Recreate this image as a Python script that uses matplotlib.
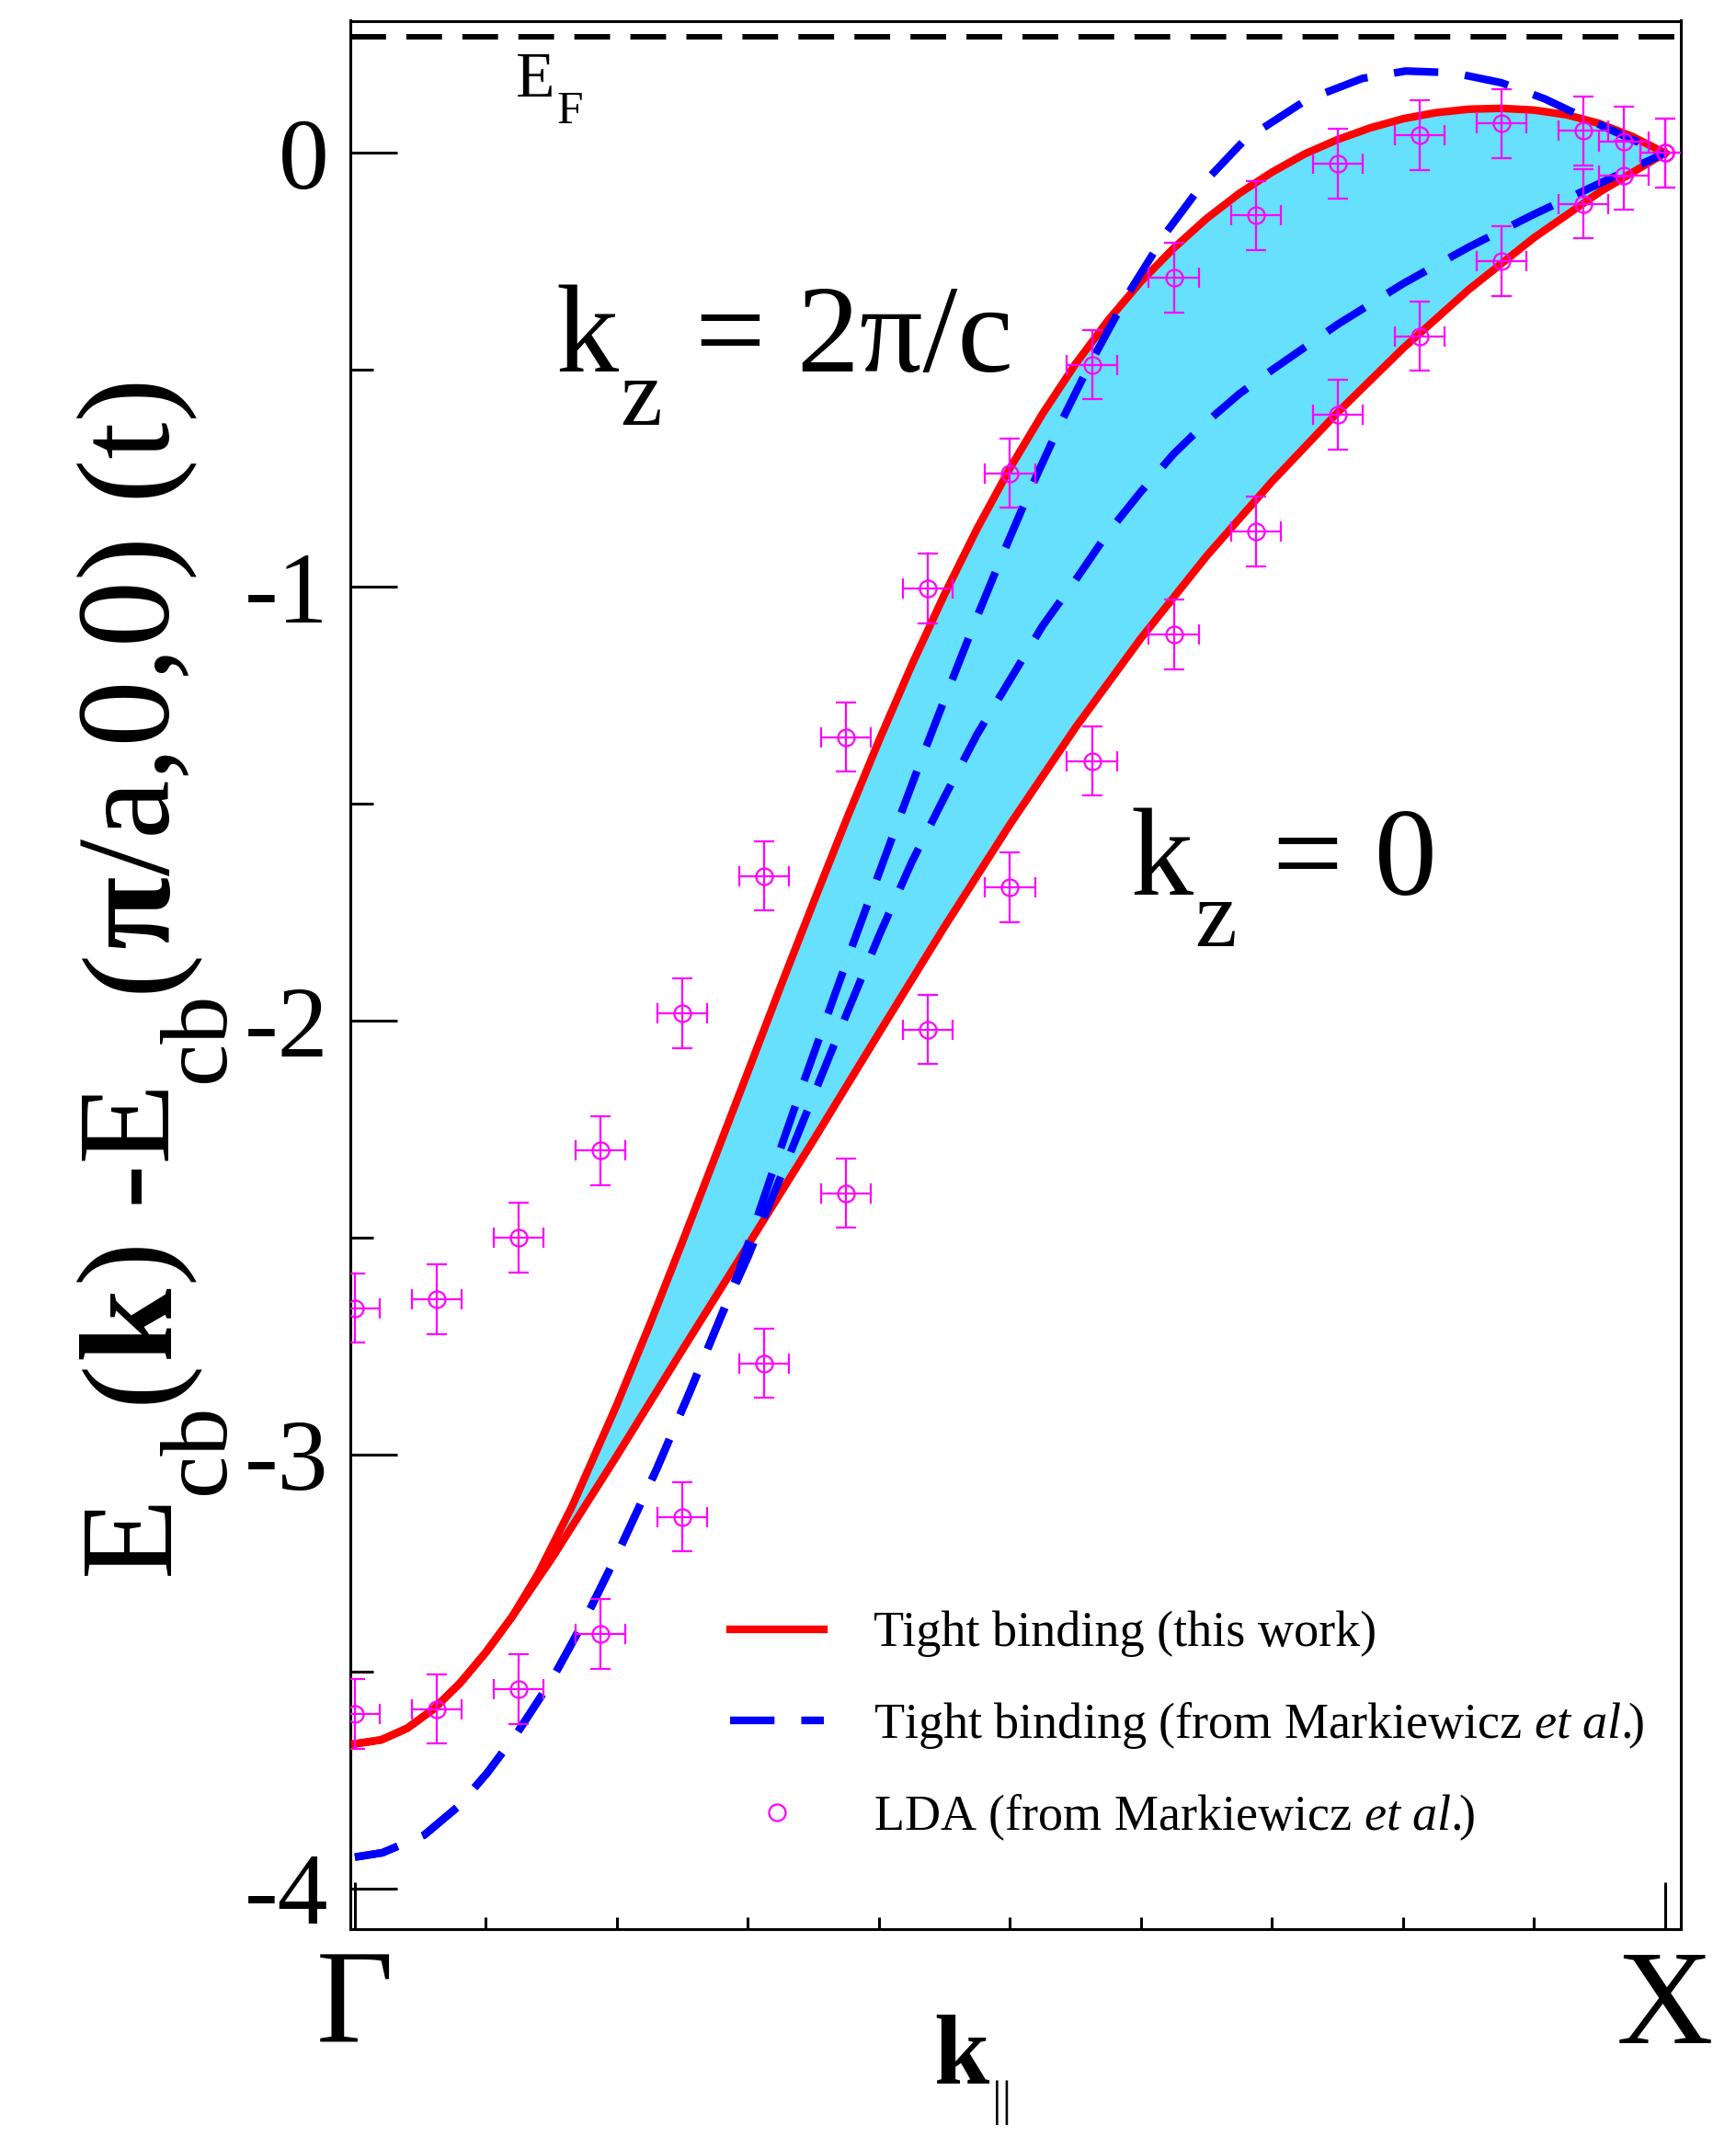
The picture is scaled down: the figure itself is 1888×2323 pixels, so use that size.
import numpy as np
import matplotlib
matplotlib.use('Agg')
import matplotlib.pyplot as plt
from matplotlib.lines import Line2D
from matplotlib.ticker import MultipleLocator
from matplotlib.transforms import IdentityTransform

plt.rcParams['font.family'] = ['Liberation Serif', 'DejaVu Serif']
plt.rcParams['mathtext.fontset'] = 'custom'
plt.rcParams['mathtext.rm'] = 'Liberation Serif'
plt.rcParams['mathtext.it'] = 'Liberation Serif:italic'
plt.rcParams['mathtext.bf'] = 'Liberation Serif:bold'
plt.rcParams['axes.unicode_minus'] = False

W, H = 1888, 2323

# tight binding (this work), kz = 2pi/c
k_tb_2pi = [0.0, 0.02, 0.04, 0.06, 0.08, 0.10, 0.12, 0.14, 0.166, 0.20,
            0.225, 0.25, 0.275, 0.30, 0.325, 0.35, 0.375, 0.40, 0.425, 0.45,
            0.475, 0.50, 0.525, 0.55, 0.575, 0.60, 0.625, 0.65, 0.675, 0.70,
            0.725, 0.75, 0.775, 0.80, 0.825, 0.85, 0.875, 0.90, 0.925, 0.95,
            0.975, 1.0]
e_tb_2pi = [-3.666, -3.657, -3.630, -3.586, -3.527, -3.455, -3.373, -3.273, -3.117, -2.884,
            -2.700, -2.509, -2.313, -2.117, -1.920, -1.727, -1.537, -1.354, -1.180, -1.017,
            -0.865, -0.726, -0.600, -0.486, -0.385, -0.296, -0.219, -0.151, -0.093, -0.044,
            -0.002, 0.031, 0.058, 0.079, 0.093, 0.101, 0.103, 0.099, 0.088, 0.068,
            0.038, 0.0]
# tight binding (this work), kz = 0
k_tb_0 = [0.0, 0.02, 0.04, 0.06, 0.08, 0.10, 0.12, 0.15, 0.20, 0.25,
          0.30, 0.35, 0.40, 0.45, 0.50, 0.55, 0.60, 0.65, 0.70, 0.75,
          0.80, 0.85, 0.90, 0.95, 1.0]
e_tb_0 = [-3.666, -3.657, -3.630, -3.586, -3.527, -3.455, -3.373, -3.240, -3.002, -2.758,
          -2.517, -2.275, -2.028, -1.783, -1.547, -1.324, -1.118, -0.929, -0.757, -0.598,
          -0.450, -0.315, -0.195, -0.090, 0.0]

# tight binding from Markiewicz et al.
k_mk_2pi = [0.0, 0.021, 0.053, 0.079, 0.101, 0.124, 0.150, 0.176, 0.201, 0.230,
            0.256, 0.279, 0.293, 0.306, 0.324, 0.342, 0.361, 0.379, 0.398, 0.415,
            0.4345, 0.454, 0.474, 0.494, 0.516, 0.539, 0.560, 0.590, 0.620, 0.646,
            0.679, 0.726, 0.769, 0.802, 0.838, 0.875, 0.908, 0.941, 0.974, 1.0]
e_mk_2pi = [-3.927, -3.917, -3.876, -3.810, -3.733, -3.640, -3.520, -3.377, -3.224, -3.035,
            -2.852, -2.684, -2.577, -2.462, -2.302, -2.145, -1.984, -1.832, -1.676, -1.537,
            -1.380, -1.228, -1.075, -0.928, -0.772, -0.620, -0.492, -0.325, -0.180, -0.075,
            0.030, 0.122, 0.172, 0.189, 0.185, 0.162, 0.125, 0.078, 0.032, 0.0]
k_mk_0 = [0.0, 0.021, 0.053, 0.079, 0.101, 0.124, 0.150, 0.176, 0.201, 0.230,
          0.256, 0.279, 0.30, 0.325, 0.35, 0.375, 0.40, 0.425, 0.45, 0.475,
          0.50, 0.525, 0.55, 0.575, 0.60, 0.625, 0.65, 0.675, 0.70, 0.75,
          0.80, 0.85, 0.90, 0.95, 1.0]
e_mk_0 = [-3.927, -3.917, -3.876, -3.810, -3.733, -3.640, -3.520, -3.377, -3.224, -3.035,
          -2.852, -2.684, -2.544, -2.359, -2.172, -1.986, -1.804, -1.634, -1.484, -1.339,
          -1.214, -1.089, -0.984, -0.874, -0.780, -0.693, -0.620, -0.555, -0.500, -0.395,
          -0.301, -0.217, -0.141, -0.070, 0.0]

# LDA (from Markiewicz et al.)
k_lda = [0.0, 0.0625, 0.125, 0.1875, 0.25, 0.3125, 0.375, 0.4375, 0.5, 0.5625,
         0.625, 0.6875, 0.75, 0.8125, 0.875, 0.9375, 0.96875, 1.0]
e_lda_2pi = [-2.662, -2.642, -2.499, -2.299, -1.982, -1.666, -1.346, -1.004, -0.738, -0.488,
             -0.287, -0.144, -0.024, 0.041, 0.068, 0.051, 0.026, 0.0]
e_lda_0 = [-3.597, -3.586, -3.540, -3.413, -3.143, -2.789, -2.397, -2.020, -1.692, -1.401,
           -1.109, -0.872, -0.603, -0.422, -0.249, -0.117, -0.051, 0.0]
lda_kerr = 0.019
lda_eerr = 0.08

e_fermi = 0.268

labels = ['Tight binding (this work)',
          r'Tight binding (from Markiewicz $\mathit{et\ al.}\!\!$)',
          r'LDA (from Markiewicz $\mathit{et\ al.}\!\!$)']

RED = '#ff0000'
BLUE = '#0000ff'
MAG = '#ff00ff'
CYAN = '#66e0fc'
LW = 6.0
DASH = (5.8, 3.5)

fig = plt.figure(figsize=(W / 100, H / 100), dpi=100)
ax = fig.add_axes([381 / W, 1 - 2098 / H, (1828 - 381) / W, (2098 - 22.5) / H])

ax.fill(np.r_[k_tb_2pi, k_tb_0[::-1]], np.r_[e_tb_2pi, e_tb_0[::-1]],
        color=CYAN, lw=0, zorder=1)
ax.plot(k_tb_2pi, e_tb_2pi, color=RED, lw=LW, zorder=3)
ax.plot(k_tb_0, e_tb_0, color=RED, lw=LW, zorder=3)
ax.plot(k_mk_2pi, e_mk_2pi, color=BLUE, lw=LW, dashes=DASH, zorder=4)
ax.plot(k_mk_0, e_mk_0, color=BLUE, lw=LW, dashes=DASH, zorder=4)
for e in (e_lda_2pi, e_lda_0):
    ax.errorbar(k_lda, e, xerr=lda_kerr, yerr=lda_eerr, fmt='o', ms=13,
                mfc='none', mec=MAG, mew=1.6, ecolor=MAG, elinewidth=1.6,
                capsize=8, capthick=1.6, zorder=5)
ax.axhline(e_fermi, color='black', lw=4.3, dashes=(6.5, 3.7), zorder=2)

ax.set_xlim(-0.0035, 1.012)
ax.set_ylim(-4.093, 0.305)

ax.yaxis.set_major_locator(MultipleLocator(1))
ax.yaxis.set_minor_locator(MultipleLocator(0.5))
ax.set_xticks([0, 1])
ax.set_xticklabels(['Γ', 'X'])
ax.set_xticks(np.arange(1, 10) / 10, minor=True)

ax.tick_params(axis='y', which='major', direction='in', length=36.7, width=2.2,
               labelsize=79, pad=17, right=False)
ax.tick_params(axis='y', which='minor', direction='in', length=18, width=2.2, right=False)
ax.tick_params(axis='x', which='major', direction='in', length=36.7, width=2.2,
               labelsize=105, pad=16, top=False)
ax.tick_params(axis='x', which='minor', direction='in', length=9.4, width=2.2, top=False)
for sp in ax.spines.values():
    sp.set_linewidth(2.2)

handles = [Line2D([], [], color=RED, lw=LW),
           Line2D([], [], color=BLUE, lw=LW, dashes=DASH),
           Line2D([], [], ls='none', marker='o', ms=13, mfc='none', mec=MAG, mew=1.6)]
ax.legend(handles, labels, loc='upper left', bbox_to_anchor=(794 / W, 1 - 1752 / H),
          bbox_transform=fig.transFigure, frameon=False, fontsize=39,
          handlelength=1.88, handletextpad=1.0, labelspacing=0.85,
          borderpad=0, borderaxespad=0)

renderer = fig.canvas.get_renderer()


def compose(pieces, x0, y0, rot=0):
    # pieces: (text, size, weight, drop, gap); x0, y0 in image pixels from top-left
    pos = 0.0
    for s, size, weight, drop, gap in pieces:
        pos += gap
        if rot == 0:
            x, y = x0 + pos, H - y0 - drop
        else:
            x, y = x0 + drop, H - y0 + pos
        t = fig.text(x, y, s, transform=IdentityTransform(), fontsize=size,
                     fontweight=weight, rotation=rot, rotation_mode='anchor',
                     ha='left', va='baseline')
        bb = t.get_window_extent(renderer)
        pos += bb.width if rot == 0 else bb.height


# y axis title
compose([('E', 104, 'normal', 0, 0), ('cb', 75, 'normal', 60, 0),
         ('(', 104, 'normal', 0, 0), ('k', 104, 'bold', 0, 0),
         (') -E', 104, 'normal', 0, 0), ('cb', 75, 'normal', 60, 0),
         ('(', 104, 'normal', 0, 0), ('π', 104, 'bold', 0, 0),
         ('/a,0,0) (t)', 104, 'normal', 0, 0)], 183, 1713, rot=90)
# x axis title
compose([('k', 78, 'bold', 0, 0), ('||', 38, 'normal', 34, 4)], 1015, 2266)
# annotations
compose([('E', 50, 'normal', 0, 0), ('F', 37, 'normal', 29, 2)], 561, 104.6)
compose([('k', 98, 'normal', 0, 0), ('z', 74, 'normal', 58, 2),
         ('= 2π/c', 98, 'normal', 0, 36)], 604.6, 404)
compose([('k', 98, 'normal', 0, 0), ('z', 74, 'normal', 56, 2),
         ('= 0', 98, 'normal', 0, 39)], 1229, 973)

fig.savefig('out.png', dpi=100)
